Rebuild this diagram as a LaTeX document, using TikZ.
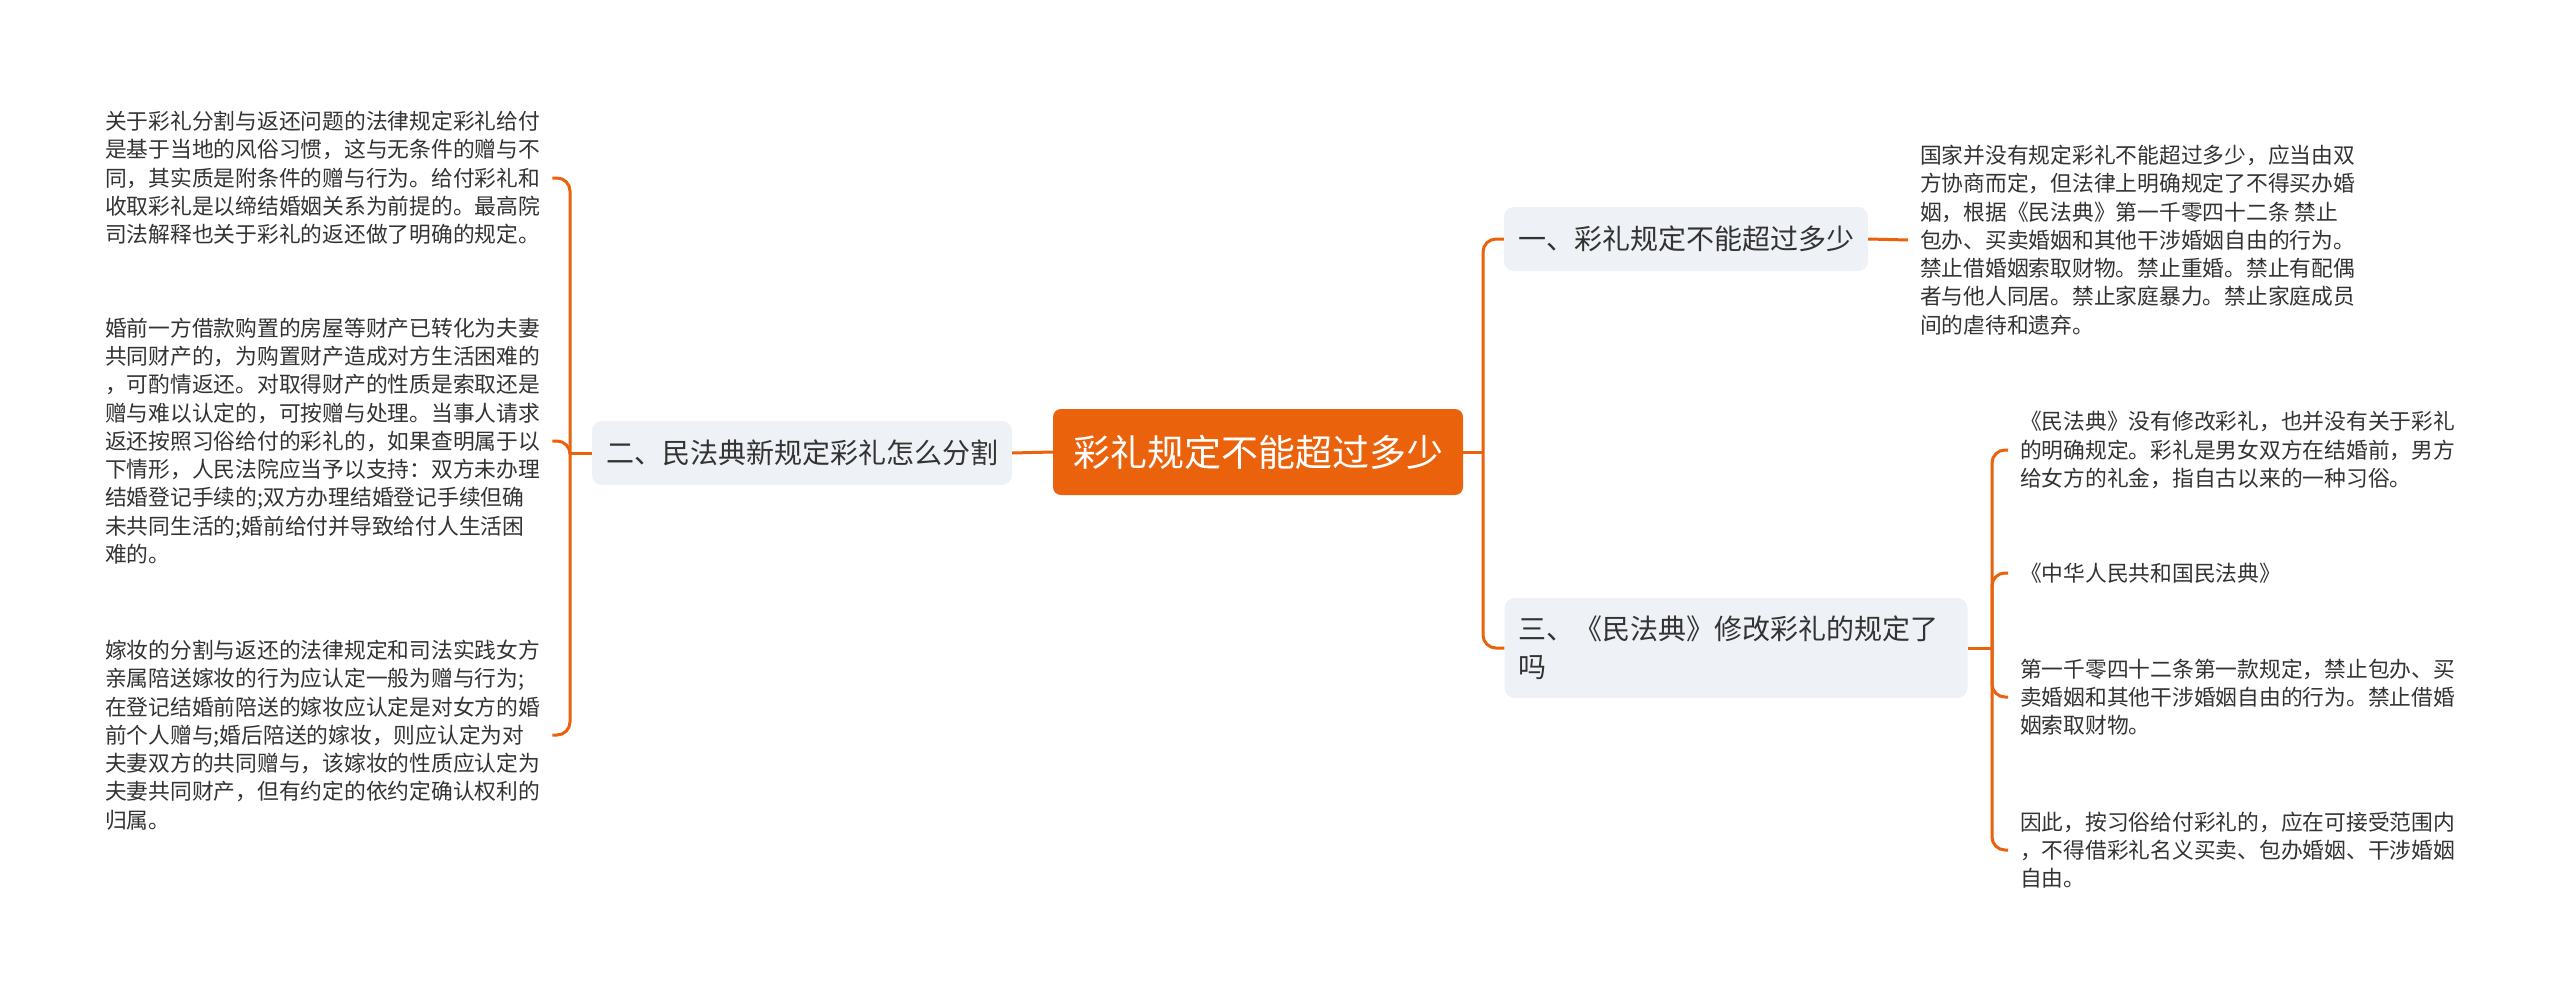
\documentclass[tikz,border=0pt]{standalone}
\usepackage{fontspec}
\setmainfont{Noto Sans CJK SC}
\definecolor{org}{RGB}{234,98,12}
\definecolor{nfill}{RGB}{238,241,245}
\definecolor{txt}{RGB}{51,51,51}
\begin{document}
\begin{tikzpicture}[x=1pt,y=-1pt,
  conn/.style={draw=org,line width=3pt,rounded corners=13pt},
  rootbox/.style={fill=org,text=white,rounded corners=8pt,font=\fontsize{37}{44}\selectfont,inner xsep=20pt,minimum height=86pt},
  topic/.style={fill=nfill,text=txt,rounded corners=10pt,font=\fontsize{28}{38}\selectfont,inner xsep=14pt,inner ysep=18pt,minimum height=64pt},
  leaf/.style={text=txt,font=\fontsize{21.75}{28.3}\selectfont,align=left,inner xsep=12pt,inner ysep=4pt,anchor=west}]
\useasboundingbox[fill=white] (0,0) rectangle (2560,996);

% root and topics
\node[rootbox] (root) at (1258,452) {彩礼规定不能超过多少};
\node[topic] (t2) at (802,453) {二、民法典新规定彩礼怎么分割};
\node[topic] (t1) at (1686,239) {一、彩礼规定不能超过多少};
\node[topic,text width=435pt,align=left] (t3) at (1736,648) {三、《民法典》修改彩礼的规定了\\吗};

% left leaves
\node[leaf] (l1) at (93,178) {关于彩礼分割与返还问题的法律规定彩礼给付\\是基于当地的风俗习惯，这与无条件的赠与不\\同，其实质是附条件的赠与行为。给付彩礼和\\收取彩礼是以缔结婚姻关系为前提的。最高院\\司法解释也关于彩礼的返还做了明确的规定。};
\node[leaf] (l2) at (93,441) {婚前一方借款购置的房屋等财产已转化为夫妻\\共同财产的，为购置财产造成对方生活困难的\\，可酌情返还。对取得财产的性质是索取还是\\赠与难以认定的，可按赠与处理。当事人请求\\返还按照习俗给付的彩礼的，如果查明属于以\\下情形，人民法院应当予以支持：双方未办理\\结婚登记手续的;双方办理结婚登记手续但确\\未共同生活的;婚前给付并导致给付人生活困\\难的。};
\node[leaf] (l3) at (93,735) {嫁妆的分割与返还的法律规定和司法实践女方\\亲属陪送嫁妆的行为应认定一般为赠与行为;\\在登记结婚前陪送的嫁妆应认定是对女方的婚\\前个人赠与;婚后陪送的嫁妆，则应认定为对\\夫妻双方的共同赠与，该嫁妆的性质应认定为\\夫妻共同财产，但有约定的依约定确认权利的\\归属。};

% right leaves
\node[leaf] (r1) at (1908,240) {国家并没有规定彩礼不能超过多少，应当由双\\方协商而定，但法律上明确规定了不得买办婚\\姻，根据《民法典》第一千零四十二条 禁止\\包办、买卖婚姻和其他干涉婚姻自由的行为。\\禁止借婚姻索取财物。禁止重婚。禁止有配偶\\者与他人同居。禁止家庭暴力。禁止家庭成员\\间的虐待和遗弃。};
\node[leaf] (s1) at (2008,450) {《民法典》没有修改彩礼，也并没有关于彩礼\\的明确规定。彩礼是男女双方在结婚前，男方\\给女方的礼金，指自古以来的一种习俗。};
\node[leaf] (s2) at (2008,573) {《中华人民共和国民法典》};
\node[leaf] (s3) at (2008,697) {第一千零四十二条第一款规定，禁止包办、买\\卖婚姻和其他干涉婚姻自由的行为。禁止借婚\\姻索取财物。};
\node[leaf] (s4) at (2008,850) {因此，按习俗给付彩礼的，应在可接受范围内\\，不得借彩礼名义买卖、包办婚姻、干涉婚姻\\自由。};

% junction coordinates
\coordinate (jr) at (1483,452);
\coordinate (jl) at (570,453);
\coordinate (j3) at (1992,648);

% connectors
\draw[conn] (root.east) -- (jr);
\draw[conn] (jr) |- (t1.west);
\draw[conn] (jr) |- (t3.west);
\draw[conn] (root.west) -- (t2.east);
\draw[conn] (t2.west) -- (jl);
\draw[conn] (jl) |- (l1.east);
\draw[conn] (jl) |- (l2.east);
\draw[conn] (jl) |- (l3.east);
\draw[conn] (t1.east) -- (r1.west);
\draw[conn] (t3.east) -- (j3);
\draw[conn] (j3) |- (s1.west);
\draw[conn] (j3) |- (s2.west);
\draw[conn] (j3) |- (s3.west);
\draw[conn] (j3) |- (s4.west);
\end{tikzpicture}
\end{document}
